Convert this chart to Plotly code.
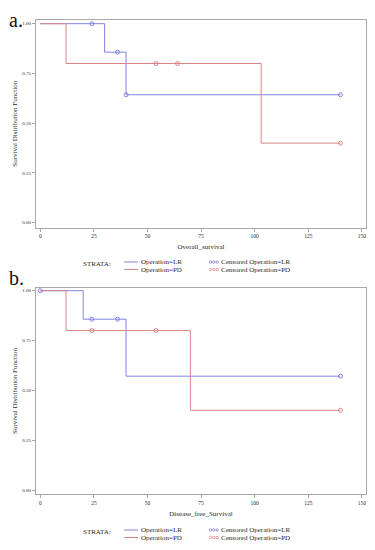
import plotly.graph_objects as go

# ---- Data ----
# Panel a: Overall survival
a_lr_time = [0, 30, 40, 140]
a_lr_surv = [1.0, 0.857, 0.643, 0.643]
a_pd_time = [0, 12, 103, 140]
a_pd_surv = [1.0, 0.8, 0.4, 0.4]
a_lr_cens_time = [24, 36, 40, 140]
a_lr_cens_surv = [1.0, 0.857, 0.643, 0.643]
a_pd_cens_time = [54, 64, 140]
a_pd_cens_surv = [0.8, 0.8, 0.4]

# Panel b: Disease-free survival
b_lr_time = [0, 20, 40, 140]
b_lr_surv = [1.0, 0.857, 0.571, 0.571]
b_pd_time = [0, 12, 70, 140]
b_pd_surv = [1.0, 0.8, 0.4, 0.4]
b_lr_cens_time = [0, 24, 36, 140]
b_lr_cens_surv = [1.0, 0.857, 0.857, 0.571]
b_pd_cens_time = [24, 54, 140]
b_pd_cens_surv = [0.8, 0.8, 0.4]

x_ticks = [0, 25, 50, 75, 100, 125, 150]
y_ticks = [0.0, 0.25, 0.5, 0.75, 1.0]
y_tick_text = ["0.00", "0.25", "0.50", "0.75", "1.00"]

LR_NAME = "Operation=LR"
PD_NAME = "Operation=PD"
LR_CENS = "Censored Operation=LR"
PD_CENS = "Censored Operation=PD"

BLUE = "#8484e4"
RED = "#da8686"
FONT = "Liberation Serif"
FRAME = "#a8a8a8"
TXT = "#2a2a2a"

# The page body adds an 8px margin; the figure is sized so the page is 375x550.
OFF = 8
W, H = 375 - OFF, 550 - OFF

fig = go.Figure()

def add_panel(xa, ya, lr_t, lr_s, pd_t, pd_s, lrc_t, lrc_s, pdc_t, pdc_s):
    fig.add_trace(go.Scatter(x=lr_t, y=lr_s, mode="lines", line=dict(color=BLUE, width=1, shape="hv"),
                             name=LR_NAME, xaxis=xa, yaxis=ya, showlegend=False))
    fig.add_trace(go.Scatter(x=pd_t, y=pd_s, mode="lines", line=dict(color=RED, width=1, shape="hv"),
                             name=PD_NAME, xaxis=xa, yaxis=ya, showlegend=False))
    fig.add_trace(go.Scatter(x=lrc_t, y=lrc_s, mode="markers",
                             marker=dict(symbol="circle-open", size=4, color=BLUE, line=dict(width=1, color=BLUE)),
                             name=LR_CENS, xaxis=xa, yaxis=ya, showlegend=False))
    fig.add_trace(go.Scatter(x=pdc_t, y=pdc_s, mode="markers",
                             marker=dict(symbol="circle-open", size=4, color=RED, line=dict(width=1, color=RED)),
                             name=PD_CENS, xaxis=xa, yaxis=ya, showlegend=False))

add_panel("x", "y", a_lr_time, a_lr_surv, a_pd_time, a_pd_surv,
          a_lr_cens_time, a_lr_cens_surv, a_pd_cens_time, a_pd_cens_surv)
add_panel("x2", "y2", b_lr_time, b_lr_surv, b_pd_time, b_pd_surv,
          b_lr_cens_time, b_lr_cens_surv, b_pd_cens_time, b_pd_cens_surv)

# page-pixel -> paper fraction helpers
def px_x(p):
    return (p - OFF) / W

def px_y(p):
    return 1 - (p - OFF) / H

xdom = [px_x(36), px_x(366)]
xrange = [-2.0, 151.9]

def axis_common(size):
    return dict(showline=True, mirror=True, linecolor=FRAME, linewidth=1,
                showgrid=False, zeroline=False, ticks="outside", ticklen=3,
                tickcolor=FRAME, tickwidth=1, ticklabeloverflow="allow",
                tickfont=dict(family=FONT, size=size, color=TXT))

title_font = dict(family=FONT, size=7, color=TXT)

layout = dict(
    width=W, height=H,
    margin=dict(l=0, r=0, t=0, b=0),
    paper_bgcolor="white", plot_bgcolor="white",
    font=dict(family=FONT, color=TXT),
    showlegend=False,
    xaxis=dict(domain=xdom, range=xrange, tickvals=x_ticks, anchor="y",
               title=dict(text="Overall_survival", font=title_font, standoff=6),
               **axis_common(5.5)),
    yaxis=dict(domain=[px_y(227.5), px_y(20)], range=[-0.024, 1.0186], tickvals=y_ticks,
               ticktext=y_tick_text, anchor="x",
               title=dict(text="Survival Distribution Function", font=title_font, standoff=3),
               **axis_common(5)),
    xaxis2=dict(domain=xdom, range=xrange, tickvals=x_ticks, anchor="y2",
                title=dict(text="Disease_free_Survival", font=title_font, standoff=6),
                **axis_common(5.5)),
    yaxis2=dict(domain=[px_y(494), px_y(288)], range=[-0.020, 1.0135], tickvals=y_ticks,
                ticktext=y_tick_text, anchor="x2",
                title=dict(text="Survival Distribution Function", font=title_font, standoff=3),
                **axis_common(5)),
)
fig.update_layout(**layout)

# ---- Panel labels ----
lab_font = dict(family=FONT, size=20, color="#111")
fig.add_annotation(text="a.", x=px_x(8), y=1.0, xref="paper", yref="paper",
                   xanchor="left", yanchor="top", showarrow=False, borderpad=0, font=lab_font)
fig.add_annotation(text="b.", x=px_x(8), y=px_y(265.5), xref="paper", yref="paper",
                   xanchor="left", yanchor="top", showarrow=False, borderpad=0, font=lab_font)

# ---- Legend block (STRATA) under each panel ----
leg_font = dict(family=FONT, size=7, color=TXT)

def legend_block(row1):
    row2 = row1 + 7.5
    fig.add_annotation(text="STRATA:", x=px_x(82), y=px_y(row1 + 2), xref="paper", yref="paper",
                       xanchor="left", yanchor="middle", showarrow=False, borderpad=0, font=leg_font)
    for ry, col, name, cname in ((row1, BLUE, LR_NAME, LR_CENS), (row2, RED, PD_NAME, PD_CENS)):
        fig.add_shape(type="line", xref="paper", yref="paper",
                      x0=px_x(124), x1=px_x(138), y0=px_y(ry), y1=px_y(ry),
                      line=dict(color=col, width=1))
        fig.add_annotation(text=name, x=px_x(139.5), y=px_y(ry), xref="paper", yref="paper",
                           xanchor="left", yanchor="middle", showarrow=False, borderpad=0, font=leg_font)
        for cx in (210.5, 213.8, 217.1):
            fig.add_shape(type="circle", xref="paper", yref="paper",
                          x0=px_x(cx - 1.2), x1=px_x(cx + 1.2), y0=px_y(ry - 1.2), y1=px_y(ry + 1.2),
                          line=dict(color=col, width=0.8), fillcolor="rgba(0,0,0,0)")
        fig.add_annotation(text=cname, x=px_x(219.5), y=px_y(ry), xref="paper", yref="paper",
                           xanchor="left", yanchor="middle", showarrow=False, borderpad=0, font=leg_font)

legend_block(262)
legend_block(530)

fig.write_html("out.html")
